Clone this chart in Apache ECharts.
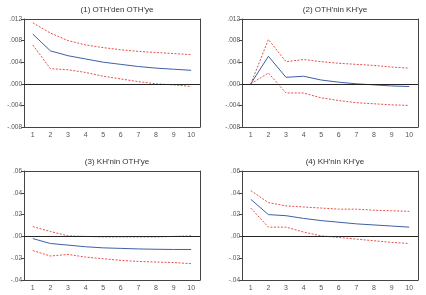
<!DOCTYPE html>
<html lang="tr">
<head>
    <meta charset="UTF-8">
    <script src="https://cdn.jsdelivr.net/npm/echarts@6/dist/echarts.min.js"></script>
    <title>Etki-tepki</title>
    <style>
        html, body { height: 100%; }
        * { padding: 0; margin: 0; }
        body { background: #fff; }
    </style>
</head>
<body>
    <div id="chart" style="width: 426px;height: 295px;"></div>
    <script>
        var periods = ['1', '2', '3', '4', '5', '6', '7', '8', '9', '10'];
        var titles = ["(1) OTH'den OTH'ye", "(2) OTH'nin KH'ye", "(3) KH'nin OTH'ye", "(4) KH'nin KH'ye"];

        // (1) OTH -> OTH
        var resp1 = [0.0092, 0.0061, 0.0052, 0.0046, 0.0040, 0.0036, 0.0032, 0.0029, 0.0027, 0.0025];
        var upper1 = [0.0113, 0.0094, 0.0080, 0.0072, 0.0067, 0.0063, 0.0060, 0.0058, 0.0056, 0.0054];
        var lower1 = [0.0072, 0.0028, 0.0026, 0.0021, 0.0014, 0.0009, 0.0004, 0.0000, -0.0002, -0.0005];
        // (2) OTH -> KH
        var resp2 = [0.0000, 0.0051, 0.0012, 0.0014, 0.0007, 0.0003, 0.0000, -0.0002, -0.0004, -0.0005];
        var upper2 = [0.0000, 0.0082, 0.0041, 0.0045, 0.0041, 0.0038, 0.0036, 0.0034, 0.0031, 0.0029];
        var lower2 = [0.0000, 0.0020, -0.0017, -0.0017, -0.0026, -0.0031, -0.0035, -0.0037, -0.0039, -0.0040];
        // (3) KH -> OTH
        var resp3 = [-0.002, -0.0065, -0.008, -0.0095, -0.0105, -0.011, -0.0115, -0.0118, -0.012, -0.012];
        var upper3 = [0.009, 0.0045, 0.0005, 0.0, -0.0005, -0.0005, -0.0005, -0.0005, 0.0, 0.0005];
        var lower3 = [-0.013, -0.018, -0.0165, -0.019, -0.0205, -0.022, -0.023, -0.0235, -0.024, -0.025];
        // (4) KH -> KH
        var resp4 = [0.034, 0.020, 0.019, 0.0165, 0.0145, 0.013, 0.0115, 0.0105, 0.0095, 0.0085];
        var upper4 = [0.042, 0.031, 0.028, 0.027, 0.026, 0.025, 0.025, 0.024, 0.0235, 0.023];
        var lower4 = [0.026, 0.0085, 0.0085, 0.004, 0.0005, -0.001, -0.0025, -0.004, -0.0055, -0.0065];

        var yRanges = [
            { min: -0.008, max: 0.012, interval: 0.004, dec: 3 },
            { min: -0.008, max: 0.012, interval: 0.004, dec: 3 },
            { min: -0.04, max: 0.06, interval: 0.02, dec: 2 },
            { min: -0.04, max: 0.06, interval: 0.02, dec: 2 }
        ];
        var panels = [
            [resp1, upper1, lower1],
            [resp2, upper2, lower2],
            [resp3, upper3, lower3],
            [resp4, upper4, lower4]
        ];
        var boxes = [
            { left: 24, top: 19, width: 176, height: 108 },
            { left: 242, top: 19, width: 176, height: 108 },
            { left: 24, top: 171, width: 176, height: 109 },
            { left: 242, top: 171, width: 176, height: 109 }
        ];

        function fmt(dec) {
            return function (v) {
                var s = Math.abs(v).toFixed(dec).replace(/^0/, '');
                return (v < -1e-9 ? '-' : '') + s;
            };
        }

        var font = 'Liberation Sans';
        var frame = { show: true, onZero: false, lineStyle: { color: '#444', width: 1 } };
        var grid = [], xAxis = [], yAxis = [], series = [], title = [];
        for (var i = 0; i < 4; i++) {
            var b = boxes[i];
            grid.push({ left: b.left, top: b.top, width: b.width, height: b.height });
            title.push({
                text: titles[i],
                left: b.left + b.width / 2, top: b.top - 18, textAlign: 'center',
                textStyle: { fontSize: 8, fontWeight: 'normal', color: '#333', fontFamily: font }
            });
            xAxis.push({
                type: 'category', gridIndex: i, data: periods, boundaryGap: true,
                axisLine: frame,
                axisTick: { inside: true, length: 3, lineStyle: { color: '#444' } },
                axisLabel: { fontSize: 7, color: '#555', margin: 5, fontFamily: font },
                splitLine: { show: false }
            });
            // top edge of the frame
            xAxis.push({
                type: 'category', gridIndex: i, data: periods, position: 'top',
                axisLine: frame, axisTick: { show: false }, axisLabel: { show: false }
            });
            yAxis.push({
                type: 'value', gridIndex: i, position: 'left',
                min: yRanges[i].min, max: yRanges[i].max, interval: yRanges[i].interval,
                axisLine: frame,
                axisTick: { show: true, length: 3, lineStyle: { color: '#444' } },
                axisLabel: { fontSize: 6.5, color: '#555', margin: 2, formatter: fmt(yRanges[i].dec), fontFamily: font },
                splitLine: { show: false }
            });
            // right edge of the frame
            yAxis.push({
                type: 'value', gridIndex: i, position: 'right',
                min: yRanges[i].min, max: yRanges[i].max, interval: yRanges[i].interval,
                axisLine: frame, axisTick: { show: false }, axisLabel: { show: false },
                splitLine: { show: false }
            });
            var d = panels[i];
            var xi = i * 2, yi = i * 2;
            series.push({
                type: 'line', xAxisIndex: xi, yAxisIndex: yi, data: d[0],
                symbol: 'none', lineStyle: { color: '#3f5fa8', width: 1 }, z: 3,
                markLine: {
                    silent: true, symbol: 'none', label: { show: false },
                    lineStyle: { color: '#222', width: 1.2, type: 'solid' },
                    data: [{ yAxis: 0 }]
                }
            });
            series.push({
                type: 'line', xAxisIndex: xi, yAxisIndex: yi, data: d[1],
                symbol: 'none', lineStyle: { color: '#e8504a', width: 1, type: [2, 1.5] }
            });
            series.push({
                type: 'line', xAxisIndex: xi, yAxisIndex: yi, data: d[2],
                symbol: 'none', lineStyle: { color: '#e8504a', width: 1, type: [2, 1.5] }
            });
        }

        var myChart = echarts.init(document.getElementById('chart'));
        myChart.setOption({
            backgroundColor: '#fff',
            animation: false,
            title: title,
            grid: grid,
            xAxis: xAxis,
            yAxis: yAxis,
            series: series
        });
    </script>
</body>
</html>
